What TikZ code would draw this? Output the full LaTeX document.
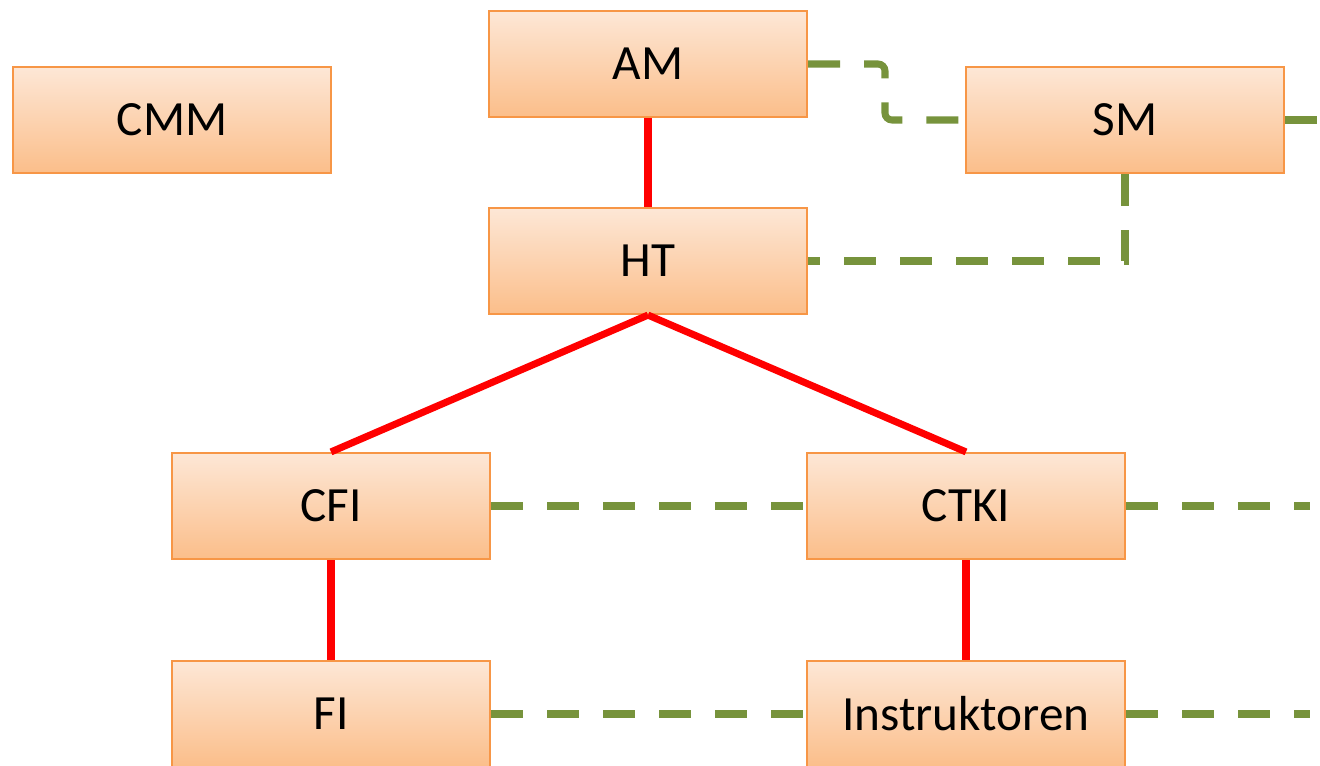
\documentclass[tikz,border=0pt]{standalone}
\usepackage{fontspec}
\setmainfont{Carlito}
\definecolor{boxline}{RGB}{247,150,70}
\definecolor{boxtop}{RGB}{253,231,214}
\definecolor{boxbot}{RGB}{251,190,138}
\definecolor{olive}{RGB}{119,147,60}
\begin{document}
\begin{tikzpicture}[x=0.01cm, y=-0.01cm,
  org/.style={rectangle, draw=boxline, line width=0.6pt, top color=boxtop, bottom color=boxbot,
    minimum width=3.18cm, minimum height=1.06cm, inner sep=0pt, font=\fontsize{14}{17}\selectfont},
  line/.style={red, line width=2pt},
  link/.style={olive, line width=2pt, dash pattern=on 0.32cm off 0.24cm}]
\useasboundingbox (0,0) rectangle (1320,766);
\node[org] (cmm) at (172,120){CMM};
\node[org] (am) at (648,64){AM};
\node[org] (sm) at (1125,120){SM};
\node[org] (ht) at (648,261){HT};
\draw[line](am) -- (ht);
\node[org] (cfi) at (331,506){CFI};
\node[org] (ctki) at (966,506){CTKI};
\draw[line](ht.south) -- (cfi.north);
\draw[line](ht.south) -- (ctki.north);
\node[org] (fi) at (331,714){FI};
\node[org] (inst) at (966,714){Instruktoren};
\draw[line](cfi) -- (fi);
\draw[line](ctki) -- (inst);
% dashed links
\coordinate (smout) at (1320,120);
\coordinate (ctkiout) at (1310,506);
\coordinate (instout) at (1310,714);
\draw[link, rounded corners=2pt](am.east) -| (885,120) -- (sm.west);
\draw[link](sm.south) |- (ht.east);
\draw[link](sm.east) -- (smout);
\draw[link](cfi) -- (ctki);
\draw[link](ctki.east) -- (ctkiout);
\draw[link](fi) -- (inst);
\draw[link](inst.east) -- (instout);
\end{tikzpicture}
\end{document}
